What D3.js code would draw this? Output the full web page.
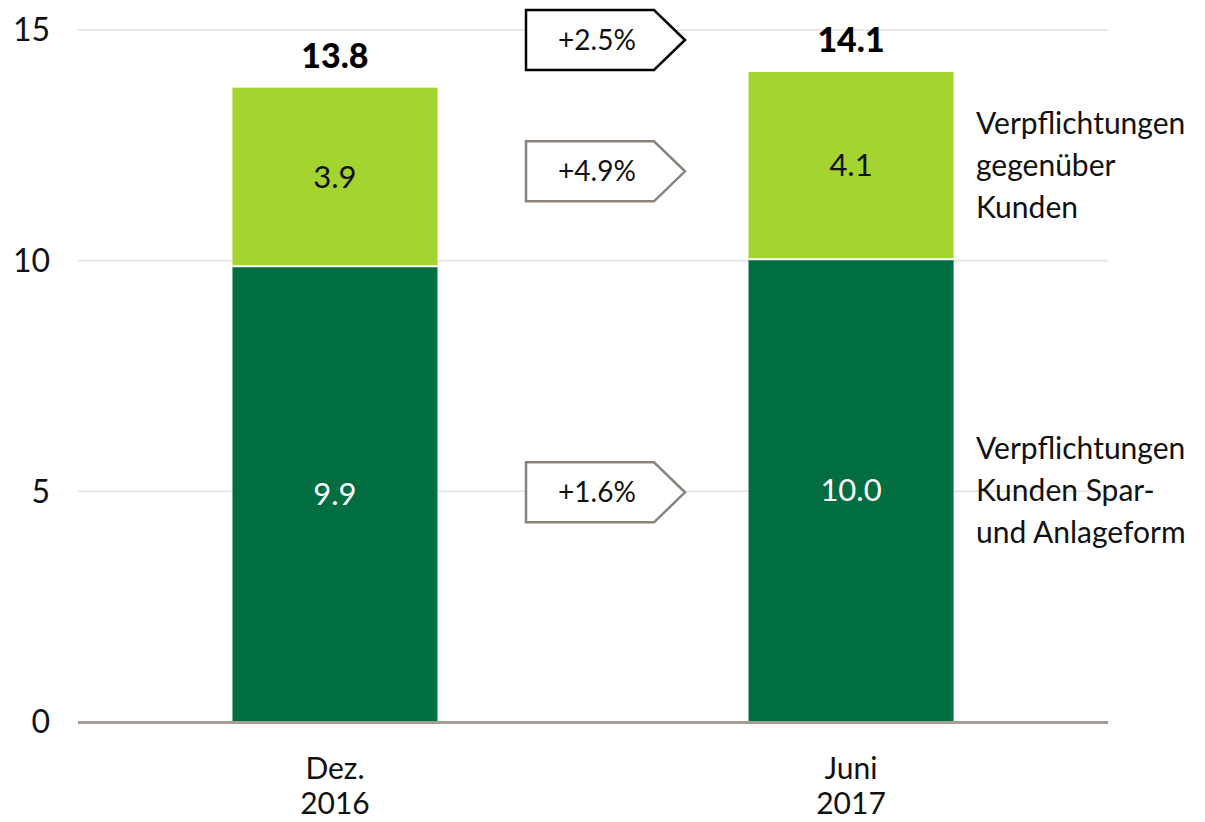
<!DOCTYPE html>
<html><head><meta charset="utf-8">
<script src="https://cdn.jsdelivr.net/npm/d3@7"></script>
<style>html,body{margin:0;padding:0;background:#fff;}svg{display:block;}</style>
</head><body>
<svg id="chart" width="1205" height="822"></svg>
<script>
const categories = [["Dez.", "2016"], ["Juni", "2017"]];
const sparAnlage = [9.88, 10.03];
const gegenueberKunden = [3.87, 4.06];
const segmentLabels = [["9.9", "3.9"], ["10.0", "4.1"]];
const totalLabels = ["13.8", "14.1"];
const changeLabels = ["+2.5%", "+4.9%", "+1.6%"];
const seriesNames = [["Verpflichtungen", "Kunden Spar-", "und Anlageform"], ["Verpflichtungen", "gegenüber", "Kunden"]];
const yTicks = [0, 5, 10, 15];

const FONT = "Lato, 'Open Sans', sans-serif";
const svg = d3.select("#chart");
const x = d3.scaleBand().domain([0, 1]).range([78, 1108]).paddingInner(0.6027).paddingOuter(0.2993);
const y = d3.scaleLinear().domain([0, 15]).range([722, 30]);
const colors = ["#006e41", "#a3d42f"];

// gridlines
svg.append("g").selectAll("line").data(yTicks.filter(d => d > 0)).join("line")
  .attr("x1", 78).attr("x2", 1108).attr("y1", d => y(d)).attr("y2", d => y(d))
  .attr("stroke", "#e8e8e8").attr("stroke-width", 2);

// y labels
svg.append("g").selectAll("text").data(yTicks).join("text")
  .attr("x", 50).attr("y", d => y(d)).attr("dy", "0.35em")
  .attr("text-anchor", "end").attr("font-family", FONT).attr("font-size", 32).attr("fill", "#111")
  .text(d => d);

// stacks
const data = categories.map((c, i) => ({ i, a: sparAnlage[i], b: gegenueberKunden[i] }));
const gBars = svg.append("g");
data.forEach(d => {
  const x0 = x(d.i), w = x.bandwidth();
  gBars.append("rect").attr("x", x0).attr("width", w)
    .attr("y", y(d.a)).attr("height", y(0) - y(d.a)).attr("fill", colors[0]);
  gBars.append("rect").attr("x", x0).attr("width", w)
    .attr("y", y(d.a + d.b)).attr("height", y(d.a) - y(d.a + d.b)).attr("fill", colors[1]);
  gBars.append("line").attr("x1", x0).attr("x2", x0 + w).attr("y1", y(d.a)).attr("y2", y(d.a))
    .attr("stroke", "#fff").attr("stroke-width", 2);
  const cx = x0 + w / 2;
  gBars.append("text").attr("x", cx).attr("y", (y(0) + y(d.a)) / 2).attr("dy", "0.35em")
    .attr("text-anchor", "middle").attr("font-family", FONT).attr("font-size", 31).attr("fill", "#fff")
    .text(segmentLabels[d.i][0]);
  gBars.append("text").attr("x", cx).attr("y", (y(d.a) + y(d.a + d.b)) / 2).attr("dy", "0.35em")
    .attr("text-anchor", "middle").attr("font-family", FONT).attr("font-size", 31).attr("fill", "#111")
    .text(segmentLabels[d.i][1]);
  gBars.append("text").attr("x", cx).attr("y", y(d.a + d.b) - 20)
    .attr("text-anchor", "middle").attr("font-family", FONT).attr("font-weight", 900).attr("font-size", 34).attr("fill", "#000")
    .text(totalLabels[d.i]);
  // category labels
  categories[d.i].forEach((t, k) => {
    svg.append("text").attr("x", cx).attr("y", 768 + k * 35).attr("dy", "0.35em")
      .attr("text-anchor", "middle").attr("font-family", FONT).attr("font-size", 30).attr("fill", "#111")
      .text(t);
  });
});

// axis baseline
svg.append("line").attr("x1", 78).attr("x2", 1108).attr("y1", y(0) + 0.5).attr("y2", y(0) + 0.5)
  .attr("stroke", "#a39d97").attr("stroke-width", 3);

// change arrows
const midX = (x(0) + x.bandwidth() + x(1)) / 2;
const arrowY = [
  y(15) + 10,
  ((y(sparAnlage[0]) + y(sparAnlage[0] + gegenueberKunden[0])) / 2 + (y(sparAnlage[1]) + y(sparAnlage[1] + gegenueberKunden[1])) / 2) / 2,
  ((y(0) + y(sparAnlage[0])) / 2 + (y(0) + y(sparAnlage[1])) / 2) / 2
];
const arrowStroke = ["#000", "#8a837c", "#8a837c"];
changeLabels.forEach((t, k) => {
  const cy = arrowY[k], h = 60, left = midX - 67, right = midX + 92, body = right - 31;
  svg.append("path")
    .attr("d", `M${left},${cy - h / 2}H${body}L${right},${cy}L${body},${cy + h / 2}H${left}Z`)
    .attr("fill", "#fff").attr("stroke", arrowStroke[k]).attr("stroke-width", 2.5);
  svg.append("text").attr("x", left + 71).attr("y", cy).attr("dy", "0.35em")
    .attr("text-anchor", "middle").attr("font-family", FONT).attr("font-size", 28).attr("fill", "#111")
    .text(t);
});

// series labels
const legendY = [
  (y(0) + y(sparAnlage[1])) / 2,
  (y(sparAnlage[1]) + y(sparAnlage[1] + gegenueberKunden[1])) / 2
];
seriesNames.forEach((lines, s) => {
  lines.forEach((t, k) => {
    svg.append("text").attr("x", 976).attr("y", legendY[s] + (k - 1) * 42).attr("dy", "0.35em")
      .attr("font-family", FONT).attr("font-size", 30).attr("fill", "#111").text(t);
  });
});
</script>
</body></html>
